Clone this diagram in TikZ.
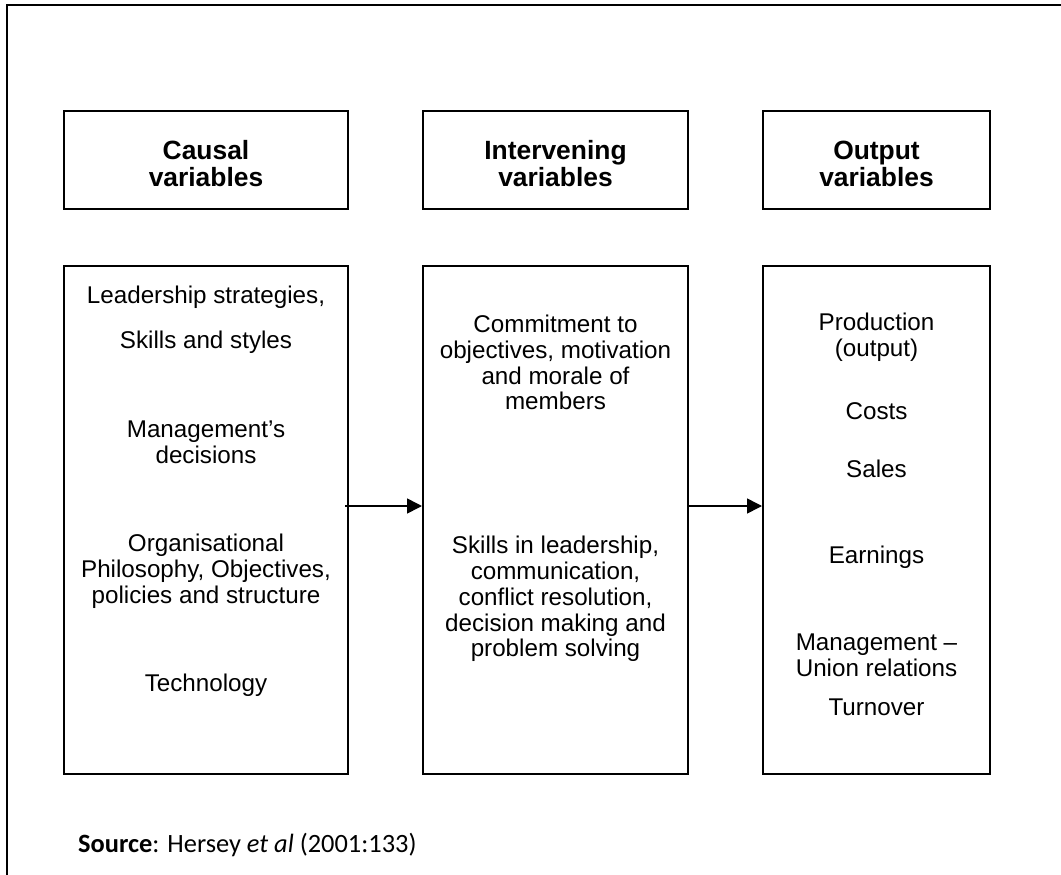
\documentclass[tikz,border=0pt]{standalone}
\usepackage{fontspec}
\setmainfont{Liberation Sans}
\newfontfamily\srcfont{Carlito}
\usetikzlibrary{arrows.meta}
\begin{document}
\begin{tikzpicture}[x=1pt,y=-1pt,
  frameline/.style={draw=black, line width=2pt},
  boxn/.style={draw=black, line width=2pt, inner sep=0pt},
  head/.style={align=center, inner sep=0pt, font=\fontsize{26.4}{27}\selectfont\bfseries},
  body/.style={align=center, inner sep=0pt, font=\fontsize{24.2}{25.8}\selectfont},
  arr/.style={line width=1.6pt, -{Triangle[length=15pt,width=15pt]}},
]
\useasboundingbox (0,0) rectangle (1061,875);
% outer frame (open to the right and bottom)
\coordinate (f1) at (7,875);
\coordinate (f2) at (7,5);
\coordinate (f3) at (1061,5);
\draw[frameline] (f1) -- (f2) -- (f3);

% header boxes
\node[boxn, minimum width=284, minimum height=98] (ch) at (206,160) {};
\node[boxn, minimum width=265, minimum height=98] (mh) at (555.5,160) {};
\node[boxn, minimum width=227, minimum height=98] (rh) at (876.5,160) {};
\node[head] (cht) at (206,163.5) {Causal\\variables};
\node[head] (mht) at (555.5,163.5) {Intervening\\variables};
\node[head] (rht) at (876.5,163.5) {Output\\variables};

% lower boxes
\node[boxn, minimum width=284, minimum height=508] (cb) at (206,520) {};
\node[boxn, minimum width=265, minimum height=508] (mb) at (555.5,520) {};
\node[boxn, minimum width=227, minimum height=508] (rb) at (876.5,520) {};

% causal texts
\node[body] (c1) at (206,297) {Leadership strategies,};
\node[body] (c2) at (206,342) {Skills and styles};
\node[body] (c3) at (206,442.5) {Management’s\\decisions};
\node[body] (c4) at (206,571) {Organisational\\Philosophy, Objectives,\\policies and structure};
\node[body] (c5) at (206,685) {Technology};

% intervening texts
\node[body] (m1) at (555.5,362.5) {Commitment to\\objectives, motivation\\and morale of\\members};
\node[body] (m2) at (555.5,599) {Skills in leadership,\\communication,\\conflict resolution,\\decision making and\\problem solving};

% output texts
\node[body] (r1) at (876.5,337.5) {Production\\(output)};
\node[body] (r2) at (876.5,411) {Costs};
\node[body] (r3) at (876.5,469) {Sales};
\node[body] (r4) at (876.5,557) {Earnings};
\node[body] (r5) at (876.5,655) {Management –\\Union relations};
\node[body] (r6) at (876.5,707) {Turnover};

% arrows
\draw[arr] ([shift={(-4,-14)}]cb.east) -- ([shift={(0,-14)}]mb.west);
\draw[arr] ([shift={(-1,-14)}]mb.east) -- ([shift={(0,-14)}]rb.west);

% source
\node[anchor=base west, inner sep=0pt, font=\srcfont\fontsize{26.4}{30}\selectfont] (src) at (78,852) {\textbf{Source}: Hersey \textit{et al} (2001:133)};
\end{tikzpicture}
\end{document}
